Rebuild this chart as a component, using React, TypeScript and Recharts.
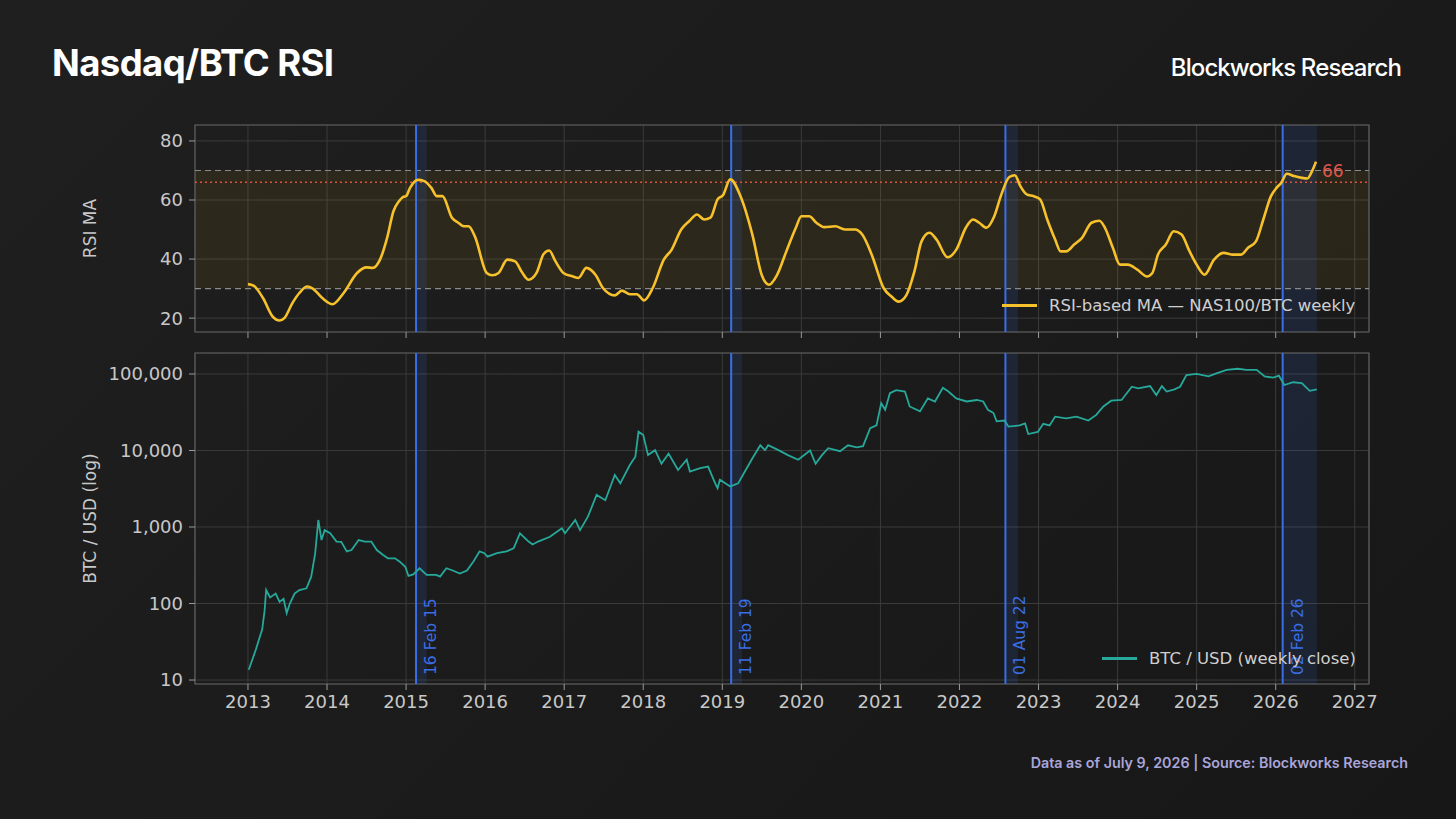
import React from 'react';
import {
  LineChart,
  Line,
  XAxis,
  YAxis,
  CartesianGrid,
  ReferenceLine,
  ReferenceArea,
  Legend,
  LabelList,
} from 'recharts';

// ---- data (decimal year, value) ----
const years = [2013, 2014, 2015, 2016, 2017, 2018, 2019, 2020, 2021, 2022, 2023, 2024, 2025, 2026, 2027];
const rsiTicks = [20, 40, 60, 80];
const btcTicks = [10, 100, 1000, 10000, 100000];
const btcMinorTicks = [
  20, 30, 40, 50, 60, 70, 80, 90,
  200, 300, 400, 500, 600, 700, 800, 900,
  2000, 3000, 4000, 5000, 6000, 7000, 8000, 9000,
  20000, 30000, 40000, 50000, 60000, 70000, 80000, 90000,
];

const rsiPoints: [number, number][] = [
  [2013.0, 31.5], [2013.07, 31], [2013.19, 26.8], [2013.31, 20.6], [2013.4, 19.2], [2013.46, 20],
  [2013.56, 25], [2013.65, 28.5], [2013.75, 30.7], [2013.82, 30], [2013.94, 26.8], [2014.07, 24.7],
  [2014.21, 28.5], [2014.38, 35.3], [2014.5, 37.2], [2014.58, 37], [2014.67, 39.8], [2014.76, 47.2],
  [2014.84, 56.2], [2014.91, 59.6], [2014.96, 61], [2015.0, 61.3], [2015.05, 64.1], [2015.15, 66.8],
  [2015.23, 66.4], [2015.32, 64.1], [2015.39, 61.3], [2015.46, 61.3], [2015.58, 54], [2015.66, 52.3],
  [2015.73, 51.1], [2015.79, 51.1], [2015.87, 47.7], [2016.02, 35.3], [2016.09, 34.5], [2016.17, 35.3],
  [2016.28, 39.8], [2016.38, 39.2], [2016.46, 35.8], [2016.55, 33], [2016.65, 35.3], [2016.74, 41.7],
  [2016.81, 42.9], [2016.89, 39.2], [2016.99, 35.3], [2017.11, 34.1], [2017.18, 33.6], [2017.28, 37],
  [2017.4, 34.5], [2017.49, 30.2], [2017.64, 27.7], [2017.73, 29.3], [2017.83, 28.1], [2017.92, 28.1],
  [2018.01, 26], [2018.12, 30.2], [2018.26, 39.8], [2018.36, 43.2], [2018.48, 50], [2018.58, 52.8],
  [2018.68, 55.1], [2018.77, 53.4], [2018.85, 54], [2018.94, 60.2], [2019.01, 61.7], [2019.1, 67],
  [2019.23, 61.3], [2019.38, 48.3], [2019.5, 34.5], [2019.59, 31.3], [2019.69, 34.5], [2019.81, 42.6],
  [2019.93, 50.6], [2020.0, 54.5], [2020.1, 54.5], [2020.19, 52.3], [2020.29, 50.8], [2020.43, 51.1],
  [2020.55, 50], [2020.68, 50], [2020.77, 48.3], [2020.89, 41.5], [2021.04, 30.2], [2021.14, 27.3],
  [2021.23, 25.6], [2021.33, 27.9], [2021.43, 35.8], [2021.52, 46], [2021.62, 48.9], [2021.71, 46.6],
  [2021.85, 40.6], [2021.96, 43.2], [2022.08, 50.6], [2022.17, 53.4], [2022.25, 52.3], [2022.34, 50.6],
  [2022.44, 54.5], [2022.53, 61.9], [2022.63, 67.8], [2022.7, 68.4], [2022.77, 64.7], [2022.85, 61.9],
  [2022.94, 61.3], [2023.02, 60.2], [2023.11, 53.4], [2023.21, 46.6], [2023.28, 42.6], [2023.35, 42.6],
  [2023.45, 44.9], [2023.55, 47.2], [2023.67, 52.3], [2023.77, 53], [2023.84, 50.6], [2023.94, 43.8],
  [2024.03, 38.1], [2024.13, 38.1], [2024.25, 36.4], [2024.37, 34.1], [2024.44, 35.3], [2024.51, 41.5],
  [2024.61, 44.9], [2024.71, 49.4], [2024.81, 48.3], [2024.9, 43.2], [2025.0, 38.1], [2025.1, 34.7],
  [2025.22, 39.8], [2025.34, 42.1], [2025.46, 41.5], [2025.56, 41.5], [2025.65, 43.8], [2025.75, 46],
  [2025.85, 54], [2025.94, 61.3], [2026.01, 64.1], [2026.07, 65.8], [2026.14, 68.9], [2026.23, 68.1],
  [2026.33, 67.5], [2026.4, 67.3], [2026.46, 69.8], [2026.51, 73],
];

const btcPoints: [number, number][] = [
  [2013.01, 13.6], [2013.1, 25], [2013.18, 46], [2013.21, 80], [2013.23, 150], [2013.28, 120],
  [2013.35, 135], [2013.4, 105], [2013.45, 115], [2013.49, 75], [2013.53, 100], [2013.59, 135],
  [2013.65, 150], [2013.74, 158], [2013.8, 224], [2013.85, 453], [2013.89, 1235], [2013.93, 675],
  [2013.97, 910], [2014.04, 830], [2014.12, 645], [2014.18, 640], [2014.25, 480], [2014.31, 500],
  [2014.4, 675], [2014.48, 645], [2014.56, 645], [2014.63, 500], [2014.71, 430], [2014.77, 390],
  [2014.86, 390], [2014.92, 352], [2014.99, 302], [2015.03, 229], [2015.09, 240], [2015.17, 289],
  [2015.26, 236], [2015.38, 236], [2015.43, 225], [2015.51, 289], [2015.59, 270], [2015.68, 247],
  [2015.77, 270], [2015.85, 352], [2015.93, 480], [2015.99, 455], [2016.03, 410], [2016.15, 455],
  [2016.27, 480], [2016.36, 525], [2016.44, 826], [2016.55, 645], [2016.6, 590], [2016.67, 645],
  [2016.82, 745], [2016.97, 960], [2017.01, 830], [2017.14, 1235], [2017.2, 910], [2017.3, 1365],
  [2017.41, 2630], [2017.52, 2240], [2017.64, 4780], [2017.71, 3720], [2017.83, 6460], [2017.9, 8300],
  [2017.94, 17600], [2018.0, 15900], [2018.06, 8700], [2018.15, 10100], [2018.23, 6700], [2018.32, 9100],
  [2018.44, 5560], [2018.55, 7570], [2018.59, 5300], [2018.72, 5870], [2018.82, 6170], [2018.91, 3720],
  [2018.94, 3210], [2018.97, 4160], [2019.1, 3390], [2019.2, 3720], [2019.26, 4780], [2019.37, 7570],
  [2019.48, 11700], [2019.54, 10100], [2019.58, 11700], [2019.71, 10100], [2019.83, 8700], [2019.96, 7570],
  [2020.11, 10000], [2020.18, 6700], [2020.26, 8700], [2020.34, 10700], [2020.49, 9800], [2020.59, 11700],
  [2020.7, 11000], [2020.78, 11400], [2020.87, 19600], [2020.95, 21300], [2021.01, 41400], [2021.06, 34000],
  [2021.12, 56000], [2021.2, 61500], [2021.31, 59000], [2021.37, 37600], [2021.5, 32400], [2021.6, 48000],
  [2021.69, 43700], [2021.79, 66000], [2021.86, 59000], [2021.96, 48000], [2022.09, 43700], [2022.22, 45700],
  [2022.3, 43700], [2022.36, 34000], [2022.43, 30900], [2022.47, 24000], [2022.57, 24600], [2022.62, 20500],
  [2022.76, 21300], [2022.83, 22600], [2022.87, 16400], [2022.99, 17500], [2023.06, 22300], [2023.14, 21300],
  [2023.21, 27700], [2023.35, 26300], [2023.48, 27700], [2023.63, 24600], [2023.73, 29200], [2023.82, 37600],
  [2023.92, 44800], [2024.05, 45700], [2024.18, 68200], [2024.26, 65000], [2024.41, 69500], [2024.49, 53100],
  [2024.56, 69500], [2024.62, 59000], [2024.72, 63000], [2024.79, 68200], [2024.87, 97000], [2025.0, 100000],
  [2025.15, 93000], [2025.25, 102000], [2025.38, 113000], [2025.52, 117000], [2025.63, 113000], [2025.76, 113000],
  [2025.86, 93000], [2025.97, 89500], [2026.04, 95000], [2026.11, 71800], [2026.22, 78000], [2026.33, 76000],
  [2026.43, 60300], [2026.52, 63000],
];

const signalStarts = [2015.126, 2019.112, 2022.581, 2026.088];
const signalEnds = [2015.26, 2019.25, 2022.74, 2026.52];
const signalLabels = ['16 Feb 15', '11 Feb 19', '01 Aug 22', '02 Feb 26'];
const rsiLatestLabel = '66';

const rsiData = rsiPoints.map(([t, v]) => ({ t, rsi: v }));
const btcData = btcPoints.map(([t, v]) => ({ t, btc: v }));

const xDomain: [number, number] = [2012.33, 2027.18];
const rsiDomain: [number, number] = [15.3, 85.4];
const btcDomain: [number, number] = [8.87, 188000];

const MPL_FONT = '"DejaVu Sans", sans-serif';
const GRID = '#3b3b3b';
const FRAME = '#5c5c5c';
const TICK = { fill: '#c8c8c8', fontSize: 18, fontFamily: MPL_FONT };
const BLUE = '#3a6ee6';

const AxisTitle = (props: any) => {
  const { viewBox, value } = props;
  if (!viewBox) return null;
  const x = viewBox.x + 90;
  const y = viewBox.y + viewBox.height / 2;
  return (
    <text
      x={x}
      y={y}
      transform={`rotate(-90 ${x} ${y})`}
      textAnchor="middle"
      dominantBaseline="central"
      fill="#c8c8c8"
      fontSize={17}
      fontFamily={MPL_FONT}
    >
      {value}
    </text>
  );
};

const DateLabel = (props: any) => {
  const { viewBox, value } = props;
  if (!viewBox) return null;
  const x = viewBox.x + 20;
  const y = viewBox.y + viewBox.height - 9;
  return (
    <text
      x={x}
      y={y}
      transform={`rotate(-90 ${x} ${y})`}
      fill={BLUE}
      fontSize={15.5}
      fontFamily={MPL_FONT}
      textAnchor="start"
    >
      {value}
    </text>
  );
};

const LatestLabel = (props: any) => {
  const { x, y, index } = props;
  if (index !== rsiData.length - 1) return null;
  return (
    <text x={x + 6} y={y + 15} fill="#e0574a" fontSize={17} fontFamily={MPL_FONT}>
      {rsiLatestLabel}
    </text>
  );
};

const LegendItem = ({ color, text }: { color: string; text: string }) => (
  <div
    style={{
      display: 'flex',
      alignItems: 'center',
      fontSize: 16.5,
      fontFamily: MPL_FONT,
      color: '#cfcfcf',
      whiteSpace: 'nowrap',
    }}
  >
    <span style={{ display: 'inline-block', width: 35, height: 3, background: color, marginRight: 12 }} />
    {text}
  </div>
);

function bands(yAxisId?: string) {
  return signalStarts.map((s, i) => (
    <ReferenceArea
      key={'band' + i}
      yAxisId={yAxisId}
      x1={s}
      x2={signalEnds[i]}
      fill={BLUE}
      fillOpacity={0.14}
      stroke="none"
    />
  ));
}

export default function App() {
  return (
    <div
      style={{
        position: 'fixed',
        left: 0,
        top: 0,
        width: 1456,
        height: 819,
        background: 'linear-gradient(135deg, #1f1f1f 0%, #1b1b1b 55%, #171717 100%)',
        fontFamily: MPL_FONT,
        overflow: 'hidden',
      }}
    >
      {/* Header */}
      <div
        style={{
          position: 'absolute',
          left: 52,
          top: 41,
          fontFamily: 'Inter',
          fontWeight: 700,
          fontSize: 36.5,
          letterSpacing: -0.6,
          color: '#ffffff',
        }}
      >
        Nasdaq/BTC RSI
      </div>
      <div
        style={{
          position: 'absolute',
          right: 55,
          top: 53,
          fontFamily: 'Inter',
          fontWeight: 500,
          fontSize: 24,
          letterSpacing: -0.9,
          color: '#ffffff',
        }}
      >
        Blockworks Research
      </div>

      {/* RSI panel */}
      <div style={{ position: 'absolute', left: 0, top: 100 }}>
        <LineChart width={1456} height={252} data={rsiData} margin={{ top: 25, right: 87, bottom: 0, left: 0 }}>
          <CartesianGrid stroke={GRID} />
          <XAxis
            dataKey="t"
            type="number"
            domain={xDomain}
            ticks={years}
            allowDataOverflow
            axisLine={false}
            tickLine={{ stroke: '#9a9a9a' }}
            tickSize={6}
            tickFormatter={() => ''}
            height={20}
          />
          <YAxis
            type="number"
            domain={rsiDomain}
            ticks={rsiTicks}
            allowDataOverflow
            axisLine={false}
            tickLine={{ stroke: '#9a9a9a' }}
            tickSize={6}
            tickMargin={6}
            tick={TICK}
            width={195}
            label={(p: any) => <AxisTitle {...p} value="RSI MA" />}
          />
          <ReferenceArea y1={30} y2={70} fill="#ffc21a" fillOpacity={0.07} stroke="none" />
          {bands()}
          <ReferenceLine y={70} stroke="#8a8a8a" strokeDasharray="6 4" strokeWidth={1.2} />
          <ReferenceLine y={30} stroke="#8a8a8a" strokeDasharray="6 4" strokeWidth={1.2} />
          <ReferenceLine y={66} stroke="#e0503c" strokeDasharray="2 3" strokeWidth={1.5} />
          {signalStarts.map((s, i) => (
            <ReferenceLine key={'l' + i} x={s} stroke={BLUE} strokeWidth={2} />
          ))}
          <ReferenceArea
            x1={xDomain[0]}
            x2={xDomain[1]}
            y1={rsiDomain[0]}
            y2={rsiDomain[1]}
            fill="none"
            stroke={FRAME}
            strokeWidth={1.2}
          />
          <Line dataKey="rsi" type="monotone" stroke="#f7c12b" strokeWidth={2.6} dot={false} isAnimationActive={false}>
            <LabelList dataKey="rsi" content={LatestLabel} />
          </Line>
          <Legend
            layout="horizontal"
            verticalAlign="middle"
            align="center"
            wrapperStyle={{ left: 1002, top: 196, width: 380 }}
            content={() => <LegendItem color="#f7c12b" text="RSI-based MA — NAS100/BTC weekly" />}
          />
        </LineChart>
      </div>

      {/* BTC panel */}
      <div style={{ position: 'absolute', left: 0, top: 340 }}>
        <LineChart width={1456} height={384} data={btcData} margin={{ top: 13, right: 87, bottom: 0, left: 0 }}>
          <CartesianGrid stroke={GRID} yAxisId="main" />
          <XAxis
            dataKey="t"
            type="number"
            domain={xDomain}
            ticks={years}
            allowDataOverflow
            axisLine={false}
            tickLine={{ stroke: '#9a9a9a' }}
            tickSize={6}
            tickMargin={5}
            tick={TICK}
            height={40}
          />
          <YAxis
            yAxisId="minor"
            type="number"
            scale="log"
            domain={btcDomain}
            ticks={btcMinorTicks}
            allowDataOverflow
            axisLine={false}
            tick={false}
            tickLine={{ stroke: '#8a8a8a' }}
            tickSize={3}
            width={0}
          />
          <YAxis
            yAxisId="main"
            type="number"
            scale="log"
            domain={btcDomain}
            ticks={btcTicks}
            allowDataOverflow
            axisLine={false}
            tickLine={{ stroke: '#9a9a9a' }}
            tickSize={6}
            tickMargin={6}
            tick={TICK}
            tickFormatter={(v: number) => v.toLocaleString('en-US')}
            width={195}
            label={(p: any) => <AxisTitle {...p} value="BTC / USD (log)" />}
          />
          {bands('main')}
          {signalStarts.map((s, i) => (
            <ReferenceLine
              key={'l' + i}
              yAxisId="main"
              x={s}
              stroke={BLUE}
              strokeWidth={2}
              label={(p: any) => <DateLabel {...p} value={signalLabels[i]} />}
            />
          ))}
          <ReferenceArea
            yAxisId="main"
            x1={xDomain[0]}
            x2={xDomain[1]}
            y1={btcDomain[0]}
            y2={btcDomain[1]}
            fill="none"
            stroke={FRAME}
            strokeWidth={1.2}
          />
          <Line
            yAxisId="main"
            dataKey="btc"
            type="linear"
            stroke="#26a99a"
            strokeWidth={1.8}
            dot={false}
            isAnimationActive={false}
          />
          <Legend
            layout="horizontal"
            verticalAlign="middle"
            align="center"
            wrapperStyle={{ left: 1102, top: 309, width: 280 }}
            content={() => <LegendItem color="#26a99a" text="BTC / USD (weekly close)" />}
          />
        </LineChart>
      </div>

      {/* Footer */}
      <div
        style={{
          position: 'absolute',
          right: 48,
          top: 754,
          fontFamily: 'Inter',
          fontWeight: 600,
          fontSize: 14.3,
          color: '#a9a5d8',
        }}
      >
        Data as of July 9, 2026 | Source: Blockworks Research
      </div>
    </div>
  );
}
